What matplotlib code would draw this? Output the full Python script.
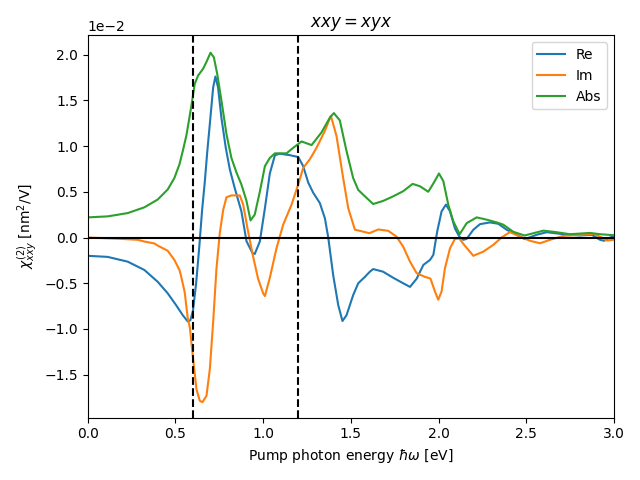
import numpy as np
import matplotlib
matplotlib.use("Agg")
from matplotlib import pyplot as plt

# values (energy in eV, chi in units of 1e-2 nm^2/V)
re_x = [0.0, 0.114, 0.228, 0.323, 0.399, 0.456, 0.504, 0.542, 0.570, 0.585, 0.600,
        0.618, 0.636, 0.652, 0.667, 0.682, 0.696, 0.715, 0.728, 0.743, 0.762, 0.787,
        0.810, 0.838, 0.876, 0.905, 0.939, 0.952, 0.981, 1.01, 1.038, 1.067, 1.095,
        1.152, 1.2, 1.228, 1.257, 1.285, 1.323, 1.352, 1.371, 1.399, 1.428, 1.452,
        1.475, 1.513, 1.542, 1.58, 1.608, 1.627, 1.684, 1.741, 1.798, 1.837, 1.875,
        1.913, 1.951, 1.970, 1.992, 2.017, 2.042, 2.065, 2.093, 2.118, 2.141, 2.16,
        2.198, 2.236, 2.293, 2.340, 2.388, 2.445, 2.492, 2.559, 2.616, 2.711, 2.806,
        2.873, 2.920, 2.943, 2.977, 3.0]
re_y = [-0.20, -0.212, -0.264, -0.355, -0.484, -0.61, -0.74, -0.85, -0.917, -0.905, -0.80,
        -0.50, -0.10, 0.30, 0.60, 0.95, 1.24, 1.64, 1.76, 1.64, 1.31, 0.98,
        0.745, 0.54, 0.286, -0.04, -0.17, -0.18, -0.044, 0.32, 0.70, 0.90, 0.916,
        0.90, 0.88, 0.78, 0.60, 0.49, 0.377, 0.21, 0.0, -0.41, -0.74, -0.913,
        -0.85, -0.63, -0.50, -0.43, -0.374, -0.345, -0.374, -0.44, -0.50, -0.54, -0.45,
        -0.30, -0.245, -0.19, 0.066, 0.286, 0.36, 0.286, 0.10, 0.01, -0.025, -0.015,
        0.085, 0.146, 0.165, 0.15, 0.085, 0.03, -0.018, 0.03, 0.058, 0.036, 0.022,
        0.03, -0.025, -0.036, 0.0, 0.015]

im_x = [0.0, 0.19, 0.285, 0.323, 0.38, 0.399, 0.456, 0.494, 0.523, 0.532, 0.553,
        0.570, 0.582, 0.601, 0.620, 0.639, 0.654, 0.677, 0.696, 0.715, 0.734, 0.753,
        0.772, 0.791, 0.819, 0.867, 0.886, 0.914, 0.943, 0.971, 1.0, 1.010, 1.038,
        1.076, 1.114, 1.162, 1.2, 1.228, 1.266, 1.304, 1.352, 1.386, 1.418, 1.456,
        1.485, 1.523, 1.551, 1.605, 1.656, 1.713, 1.760, 1.798, 1.837, 1.875, 1.922,
        1.954, 1.979, 1.998, 2.017, 2.036, 2.065, 2.093, 2.118, 2.141, 2.198, 2.255,
        2.312, 2.359, 2.407, 2.464, 2.521, 2.578, 2.635, 2.711, 2.825, 2.882, 2.930,
        2.958, 3.0]
im_y = [0.0, -0.015, -0.025, -0.044, -0.065, -0.088, -0.145, -0.245, -0.355, -0.42, -0.60,
        -0.88, -0.98, -1.33, -1.66, -1.785, -1.80, -1.73, -1.44, -0.924, -0.337, 0.05,
        0.30, 0.44, 0.46, 0.46, 0.36, 0.066, -0.21, -0.45, -0.61, -0.64, -0.44,
        -0.118, 0.14, 0.36, 0.58, 0.76, 0.855, 0.98, 1.166, 1.33, 1.11, 0.65,
        0.32, 0.085, 0.073, 0.047, 0.088, 0.073, 0.01, -0.10, -0.264, -0.39, -0.43,
        -0.45, -0.59, -0.68, -0.59, -0.337, -0.118, -0.015, -0.01, -0.07, -0.20, -0.154,
        -0.08, 0.0, 0.06, 0.01, -0.036, -0.063, -0.025, 0.018, 0.03, 0.04, 0.0,
        -0.033, -0.025]

abs_x = [0.0, 0.114, 0.228, 0.323, 0.399, 0.456, 0.494, 0.523, 0.542, 0.563, 0.591,
         0.610, 0.629, 0.658, 0.677, 0.700, 0.719, 0.738, 0.762, 0.791, 0.819, 0.848,
         0.876, 0.905, 0.928, 0.952, 0.981, 1.01, 1.038, 1.067, 1.133, 1.171, 1.219,
         1.276, 1.333, 1.380, 1.403, 1.437, 1.475, 1.513, 1.542, 1.58, 1.608, 1.627,
         1.684, 1.741, 1.798, 1.852, 1.894, 1.941, 1.973, 2.002, 2.027, 2.055, 2.084,
         2.120, 2.160, 2.217, 2.274, 2.331, 2.369, 2.426, 2.490, 2.597, 2.664, 2.749,
         2.863, 2.920, 3.0]
abs_y = [0.22, 0.231, 0.267, 0.33, 0.415, 0.525, 0.65, 0.80, 0.946, 1.12, 1.44,
         1.68, 1.77, 1.845, 1.92, 2.02, 1.97, 1.79, 1.50, 1.13, 0.87, 0.71,
         0.58, 0.40, 0.187, 0.25, 0.50, 0.78, 0.87, 0.92, 0.92, 0.98, 1.05,
         1.01, 1.15, 1.31, 1.36, 1.28, 0.946, 0.65, 0.52, 0.45, 0.40, 0.366,
         0.40, 0.45, 0.506, 0.586, 0.56, 0.50, 0.60, 0.70, 0.616, 0.36, 0.176,
         0.036, 0.157, 0.22, 0.195, 0.165, 0.14, 0.062, 0.022, 0.075, 0.06, 0.036,
         0.05, 0.036, 0.025]

scale = 1e-2

fig, ax = plt.subplots(figsize=(6.4, 4.8), dpi=100)
ax.plot(re_x, np.array(re_y) * scale, label="Re")
ax.plot(im_x, np.array(im_y) * scale, label="Im")
ax.plot(abs_x, np.array(abs_y) * scale, label="Abs")

# zero line and the two marker energies
ax.axhline(0, color="k")
ax.axvline(0.6, color="k", linestyle="--")
ax.axvline(1.2, color="k", linestyle="--")

ax.set_xlim(0, 3)
ax.set_ylim(-0.0197, 0.0221)
ax.set_yticks([-0.015, -0.01, -0.005, 0, 0.005, 0.01, 0.015, 0.02])
ax.ticklabel_format(axis="y", style="sci", scilimits=(0, 0))
ax.set_xlabel(r"Pump photon energy $\hbar\omega$ [eV]")
ax.set_ylabel(r"$\chi^{(2)}_{xxy}$ [nm$^2$/V]")
ax.set_title(r"$xxy = xyx$")
ax.legend(loc="upper right")

fig.tight_layout()
fig.savefig("out.png")
